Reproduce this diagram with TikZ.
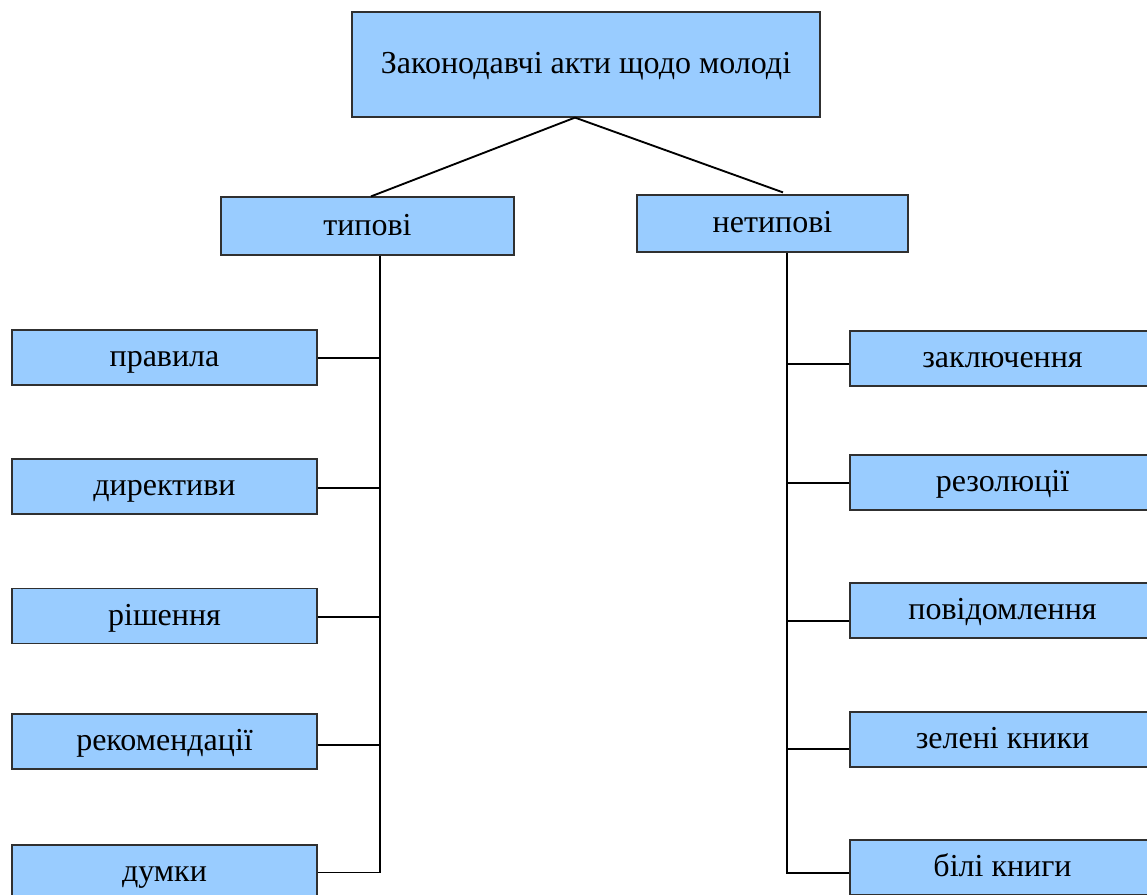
\documentclass[tikz,border=0pt]{standalone}
\usepackage{fontspec}
\setmainfont{Liberation Serif}
\usetikzlibrary{calc}
\definecolor{boxblue}{HTML}{99CCFF}
\definecolor{boxline}{HTML}{303030}
\tikzset{
  box/.style={draw=boxline, line width=0.9pt, fill=boxblue, inner sep=0pt,
    font=\fontsize{24}{28}\selectfont, text=black, text height=17pt, text depth=2.8pt},
  sbox/.style={box, minimum width=228.75pt, minimum height=41.25pt},
  conn/.style={draw=black, line width=1.4pt}
}
\begin{document}
\begin{tikzpicture}[x=0.75pt,y=-0.75pt]
\useasboundingbox (0,0) rectangle (1147,895);
\clip (0,0) rectangle (1147,895);
% top
\node[box, minimum width=351pt, minimum height=78.75pt] (top) at (586,64.5) {Законодавчі акти щодо молоді};
\node[box, minimum width=219.75pt, minimum height=43.5pt] (tipovi) at (367.5,226) {типові};
\node[box, minimum width=203.25pt, minimum height=42.75pt] (netipovi) at (772.5,223.5) {нетипові};
% left column
\node[sbox] (pravila) at (164.5,357.5) {правила};
\node[sbox] (dyrektyvy) at (164.5,486.5) {директиви};
\node[sbox] (rishennia) at (164.5,616) {рішення};
\node[sbox] (rekomendacii) at (164.5,741.5) {рекомендації};
\node[sbox] (dumky) at (164.5,872.5) {думки};
% right column
\node[sbox] (zakl) at (1002.5,358.5) {заключення};
\node[sbox] (rezol) at (1002.5,482.5) {резолюції};
\node[sbox] (povid) at (1002.5,610.5) {повідомлення};
\node[sbox] (zeleni) at (1002.5,739.5) {зелені кники};
\node[sbox] (bili) at (1002.5,867.5) {білі книги};
% connectors top
\coordinate (apex) at ($(top.south)+(-11,0)$);
\coordinate (tl) at ($(tipovi.north)+(3.5,0)$);
\coordinate (tr) at ($(netipovi.north)+(10.5,-2)$);
\draw[conn] (apex) -- (tl);
\draw[conn] (apex) -- (tr);
% left trunk
\coordinate (lt) at ($(tipovi.south)+(12.5,0)$);
\draw[conn] (lt) |- (dumky.east);
\draw[conn] ($(pravila.east)+(0,0.5)$) -- ($(pravila.east -| lt)+(0,0.5)$);
\draw[conn] ($(dyrektyvy.east)+(0,1.5)$) -- ($(dyrektyvy.east -| lt)+(0,1.5)$);
\draw[conn] ($(rishennia.east)+(0,1)$) -- ($(rishennia.east -| lt)+(0,1)$);
\draw[conn] ($(rekomendacii.east)+(0,3.5)$) -- ($(rekomendacii.east -| lt)+(0,3.5)$);
% right trunk
\coordinate (rt) at ($(netipovi.south)+(14.5,0)$);
\draw[conn] (rt) |- ($(bili.west)+(0,5.5)$);
\draw[conn] ($(zakl.west)+(0,5.5)$) -- ($(zakl.west -| rt)+(0,5.5)$);
\draw[conn] ($(rezol.west)+(0,0.5)$) -- ($(rezol.west -| rt)+(0,0.5)$);
\draw[conn] ($(povid.west)+(0,10.5)$) -- ($(povid.west -| rt)+(0,10.5)$);
\draw[conn] ($(zeleni.west)+(0,9.5)$) -- ($(zeleni.west -| rt)+(0,9.5)$);
\end{tikzpicture}
\end{document}
